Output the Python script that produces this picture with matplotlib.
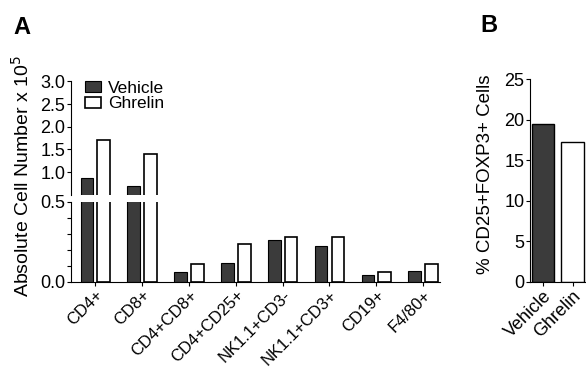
import numpy as np
import matplotlib.pyplot as plt

plt.rcParams['font.family'] = ['Liberation Sans', 'DejaVu Sans']

# Data
cell_types = ['CD4+', 'CD8+', 'CD4+CD8+', 'CD4+CD25+', 'NK1.1+CD3-',
              'NK1.1+CD3+', 'CD19+', 'F4/80+']
vehicle = [0.86, 0.69, 0.064, 0.117, 0.26, 0.227, 0.042, 0.069]
ghrelin = [1.70, 1.39, 0.11, 0.24, 0.28, 0.28, 0.06, 0.11]

treg_groups = ['Vehicle', 'Ghrelin']
treg_pct = [19.5, 17.2]

dark = '#3b3b3b'
W, H = 586, 369

fig = plt.figure(figsize=(5.86, 3.69), dpi=100)

def px_axes(left, top, right, bottom):
    return fig.add_axes([left / W, 1 - bottom / H, (right - left) / W, (bottom - top) / H])

# Panel A: broken y axis, two stacked axes
ax_hi = px_axes(71, 81.5, 440, 194.7)
ax_lo = px_axes(71, 202, 440, 282)

x = np.arange(len(cell_types))
bw, off = 0.27, 0.18
for ax in (ax_hi, ax_lo):
    ax.bar(x - off, vehicle, bw, color=dark, edgecolor='black', linewidth=0.8, label='Vehicle')
    ax.bar(x + off, ghrelin, bw, color='white', edgecolor='black', linewidth=1.2, label='Ghrelin')
    ax.set_xlim(-0.52, 7.36)
    ax.spines['top'].set_visible(False)
    ax.spines['right'].set_visible(False)
    ax.tick_params(direction='out', length=3, width=0.8, labelsize=13, pad=1)

ax_hi.set_ylim(0.5, 3.0)
ax_hi.set_yticks([1.0, 1.5, 2.0, 2.5, 3.0])
ax_hi.set_yticklabels(['1.0', '1.5', '2.0', '2.5', '3.0'])
ax_hi.spines['bottom'].set_visible(False)
ax_hi.set_xticks([])
ax_hi.legend(loc='upper left', bbox_to_anchor=(0.02, 1.07), frameon=False,
             fontsize=12.5, handlelength=0.9, handleheight=0.6, handletextpad=0.4,
             labelspacing=0.05, borderaxespad=0)

ax_lo.set_ylim(0, 0.5)
ax_lo.set_yticks(np.arange(0, 0.51, 0.1))
ax_lo.set_yticklabels(['0.0', '', '', '', '', '0.5'])
ax_lo.set_xticks(x)
ax_lo.set_xticklabels(cell_types, rotation=45, ha='right', rotation_mode='anchor', fontsize=12)

fig.text(22 / W, 1 - 176 / H, 'Absolute Cell Number x 10$^5$', rotation=90,
         ha='center', va='center', fontsize=14)

# Panel B
ax_b = px_axes(530, 79.3, 586, 281.7)
xb = np.arange(len(treg_groups))
ax_b.bar(xb, treg_pct, 0.75, color=[dark, 'white'], edgecolor='black', linewidth=1.0)
ax_b.set_xlim(-0.43, 1.45)
ax_b.set_ylim(0, 25)
ax_b.set_yticks([0, 5, 10, 15, 20, 25])
ax_b.set_xticks(xb)
ax_b.set_xticklabels(treg_groups, rotation=45, ha='right', rotation_mode='anchor', fontsize=12)
ax_b.spines['top'].set_visible(False)
ax_b.spines['right'].set_visible(False)
ax_b.tick_params(direction='out', length=3, width=0.8, labelsize=13, pad=1)
fig.text(485 / W, 1 - 174.5 / H, '% CD25+FOXP3+ Cells', rotation=90,
         ha='center', va='center', fontsize=13.5)

fig.text(13 / W, 1 - 27 / H, 'A', fontsize=17, fontweight='bold', va='center')
fig.text(480 / W, 1 - 25 / H, 'B', fontsize=17, fontweight='bold', va='center')

plt.savefig('out.png', dpi=100)
